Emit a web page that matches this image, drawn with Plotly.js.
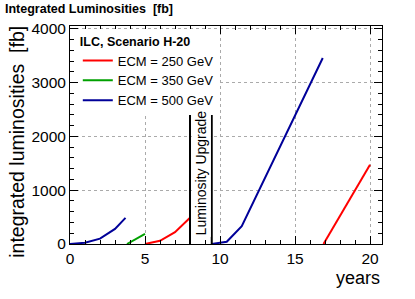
<!DOCTYPE html>
<html><head><meta charset="utf-8">
<script src="https://cdn.plot.ly/plotly-3.0.1.min.js"></script>
<style>html,body{margin:0;padding:0;background:#fff}#c{width:415px;height:299px}</style>
</head><body><div id="c"></div>
<script>
// Data
const blue1X = [0, 1, 2, 3, 3.7];
const blue1Y = [0, 25, 100, 280, 485];
const green1X = [3.8, 5.0];
const green1Y = [0, 190];
const red1X = [5.0, 6, 7, 8.0];
const red1Y = [0, 60, 220, 490];
const blue2X = [9.45, 10.45, 11.45, 16.85];
const blue2Y = [0, 43, 333, 3460];
const red2X = [16.9, 20.0];
const red2Y = [0, 1475];
const upgradeX = [8.0, 9.45];
const upgradeTop = 2480;
const seriesNames = ["ECM = 250 GeV", "ECM = 350 GeV", "ECM = 500 GeV"];
const colRed = "#ff0000", colGreen = "#00a000", colBlue = "#000099";

const F = "Liberation Sans, Arial, sans-serif";
const mk = (x, y, c, name, show) => ({x, y, type: "scatter", mode: "lines", line: {color: c, width: 2}, name: name, showlegend: show, hoverinfo: "skip"});
const traces = [
  mk(red1X, red1Y, colRed, seriesNames[0], true),
  mk(green1X, green1Y, colGreen, seriesNames[1], true),
  mk(blue1X, blue1Y, colBlue, seriesNames[2], true),
  mk(blue2X, blue2Y, colBlue, seriesNames[2], false),
  mk(red2X, red2Y, colRed, seriesNames[0], false)
];

const axBase = {
  showline: true, linecolor: "#000", linewidth: 1, mirror: "allticks",
  ticks: "inside", ticklen: 8, tickcolor: "#000", tickwidth: 1,
  showgrid: true, gridcolor: "#aaa", griddash: "dot", gridwidth: 1,
  zeroline: false, tickfont: {family: F, size: 15.5, color: "#000"}
};
const layout = {
  width: 415, height: 299,
  margin: {l: 70, r: 33, t: 26, b: 55},
  paper_bgcolor: "#fff", plot_bgcolor: "#fff",
  title: {text: "<b>Integrated Luminosities  [fb]</b>", font: {family: F, size: 12.5, color: "#000"}, x: 0.012, xanchor: "left", y: 0.985, yanchor: "top"},
  xaxis: Object.assign({}, axBase, {range: [0, 20.8], tickvals: [0, 5, 10, 15, 20],
    minor: {ticks: "inside", ticklen: 4, dtick: 1, tick0: 0, tickcolor: "#000", showgrid: false},
    title: {text: ""}}),
  yaxis: Object.assign({}, axBase, {range: [0, 4055], tickvals: [0, 1000, 2000, 3000, 4000],
    minor: {ticks: "inside", ticklen: 4, dtick: 200, tick0: 0, tickcolor: "#000", showgrid: false},
    title: {text: ""}}),
  showlegend: true,
  legend: {x: 0.025, y: 0.985, xanchor: "left", yanchor: "top", bgcolor: "rgba(255,255,255,1)", borderwidth: 0,
    font: {family: F, size: 13, color: "#000"}, itemwidth: 30, tracegroupgap: 0,
    title: {text: "<b>ILC, Scenario H-20</b>", font: {family: F, size: 12.5, color: "#000"}}},
  shapes: upgradeX.map(x => ({type: "line", xref: "x", yref: "y", x0: x, x1: x, y0: 0, y1: upgradeTop, line: {color: "#000", width: 2}})),
  annotations: [
    {xref: "x", yref: "y", x: (upgradeX[0] + upgradeX[1]) / 2, y: 1330, text: "Luminosity Upgrade", textangle: -90, showarrow: false,
     font: {family: F, size: 14, color: "#000"}, bgcolor: "#fff"},
    {xref: "paper", yref: "paper", x: -0.17, y: 1.01, xanchor: "center", yanchor: "top", text: "integrated luminosities  [fb]", textangle: -90, showarrow: false,
     font: {family: F, size: 19.5, color: "#000"}},
    {xref: "paper", yref: "paper", x: 1.0, y: -0.156, xanchor: "right", yanchor: "middle", text: "years", showarrow: false,
     font: {family: F, size: 18, color: "#000"}}
  ]
};
Plotly.newPlot("c", traces, layout, {displayModeBar: false, staticPlot: true});
</script></body></html>
